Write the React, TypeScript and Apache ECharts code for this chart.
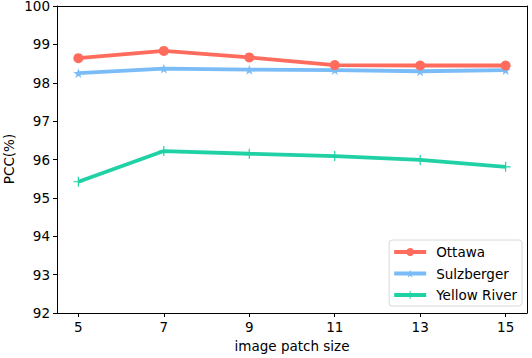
import React, { useEffect, useRef } from "react";
import * as echarts from "echarts";

const patchSizes = [5, 7, 9, 11, 13, 15];
const ottawa = [98.64, 98.83, 98.66, 98.46, 98.45, 98.45];
const sulzberger = [98.25, 98.37, 98.34, 98.33, 98.3, 98.33];
const yellowRiver = [95.42, 96.22, 96.15, 96.09, 95.99, 95.81];
const seriesNames = ["Ottawa", "Sulzberger", "Yellow River"];
const colors = ["#ff6b5c", "#7abcf8", "#1fd1a5"];
const yTitle = "PCC(%)";
const xTitle = "image patch size";

const FONT = "DejaVu Sans";
const FS = 13.5;
const STAR = "path://M50,0 L61,35 L98,35 L68,57 L79,91 L50,70 L21,91 L32,57 L2,35 L39,35 Z";
const PLUS = "path://M4.4,0 L5.6,0 L5.6,4.4 L10,4.4 L10,5.6 L5.6,5.6 L5.6,10 L4.4,10 L4.4,5.6 L0,5.6 L0,4.4 L4.4,4.4 Z";

export default function App() {
  const ref = useRef<HTMLDivElement>(null);
  useEffect(() => {
    if (!ref.current) return;
    const chart = echarts.init(ref.current, undefined, { renderer: "svg" });
    const pair = (vals: number[]) => patchSizes.map((x, i) => [x, vals[i]]);
    const lineStyleAxis = { show: true, lineStyle: { color: "#000", width: 1 } };
    chart.setOption({
      animation: false,
      textStyle: { fontFamily: FONT },
      grid: {
        left: 57,
        top: 6,
        right: 5,
        bottom: 45,
        containLabel: false,
        outerBoundsMode: "none",
      },
      graphic: [
        {
          type: "text",
          x: 9,
          y: 159,
          rotation: Math.PI / 2,
          style: {
            text: yTitle,
            font: `${FS}px "${FONT}"`,
            fill: "#000",
            align: "center",
            verticalAlign: "middle",
          },
        },
      ],
      legend: {
        orient: "vertical",
        right: 10,
        bottom: 52,
        itemWidth: 32,
        itemHeight: 10,
        itemGap: 7.5,
        padding: [5, 5, 4, 3],
        borderColor: "#d8d8d8",
        borderWidth: 1,
        borderRadius: 3,
        backgroundColor: "#fff",
        lineStyle: { width: 4 },
        textStyle: { fontFamily: FONT, fontSize: FS, color: "#000", padding: [0, 0, 0, 5] },
        data: seriesNames,
      },
      xAxis: [
        {
          type: "value",
          min: 4.5,
          max: 15.5,
          name: xTitle,
          nameLocation: "middle",
          nameGap: 26,
          nameTextStyle: { fontFamily: FONT, fontSize: FS, color: "#000" },
          axisLine: { ...lineStyleAxis, onZero: false },
          axisTick: {
            show: true,
            inside: false,
            length: 4,
            lineStyle: { color: "#000", width: 1 },
            customValues: patchSizes,
          },
          axisLabel: {
            margin: 7,
            fontFamily: FONT,
            fontSize: FS,
            color: "#000",
            customValues: patchSizes,
          },
          splitLine: { show: false },
        },
        {
          type: "value",
          position: "top",
          min: 4.5,
          max: 15.5,
          axisLine: { ...lineStyleAxis, onZero: false },
          axisTick: { show: false },
          axisLabel: { show: false },
          splitLine: { show: false },
        },
      ],
      yAxis: [
        {
          type: "value",
          min: 92,
          max: 100,
          interval: 1,
          axisLine: { ...lineStyleAxis, onZero: false },
          axisTick: { show: true, inside: false, length: 4, lineStyle: { color: "#000", width: 1 } },
          axisLabel: {
            margin: 7,
            fontFamily: FONT,
            fontSize: FS,
            lineHeight: 12,
            color: "#000",
          },
          splitLine: { show: false },
        },
        {
          type: "value",
          position: "right",
          min: 92,
          max: 100,
          axisLine: { ...lineStyleAxis, onZero: false },
          axisTick: { show: false },
          axisLabel: { show: false },
          splitLine: { show: false },
        },
      ],
      series: [
        {
          name: seriesNames[0],
          type: "line",
          data: pair(ottawa),
          symbol: "circle",
          symbolSize: 10,
          lineStyle: { width: 3.8, color: colors[0] },
          itemStyle: { color: colors[0] },
          z: 3,
        },
        {
          name: seriesNames[1],
          type: "line",
          data: pair(sulzberger),
          symbol: STAR,
          symbolSize: 10,
          lineStyle: { width: 3.8, color: colors[1] },
          itemStyle: { color: colors[1] },
          z: 2,
        },
        {
          name: seriesNames[2],
          type: "line",
          data: pair(yellowRiver),
          symbol: PLUS,
          symbolSize: 10,
          lineStyle: { width: 3.8, color: colors[2] },
          itemStyle: { color: colors[2] },
          z: 1,
        },
      ],
    });
    return () => chart.dispose();
  }, []);
  return (
    <div
      ref={ref}
      style={{ position: "absolute", left: 0, top: 0, width: 532, height: 358 }}
    />
  );
}
